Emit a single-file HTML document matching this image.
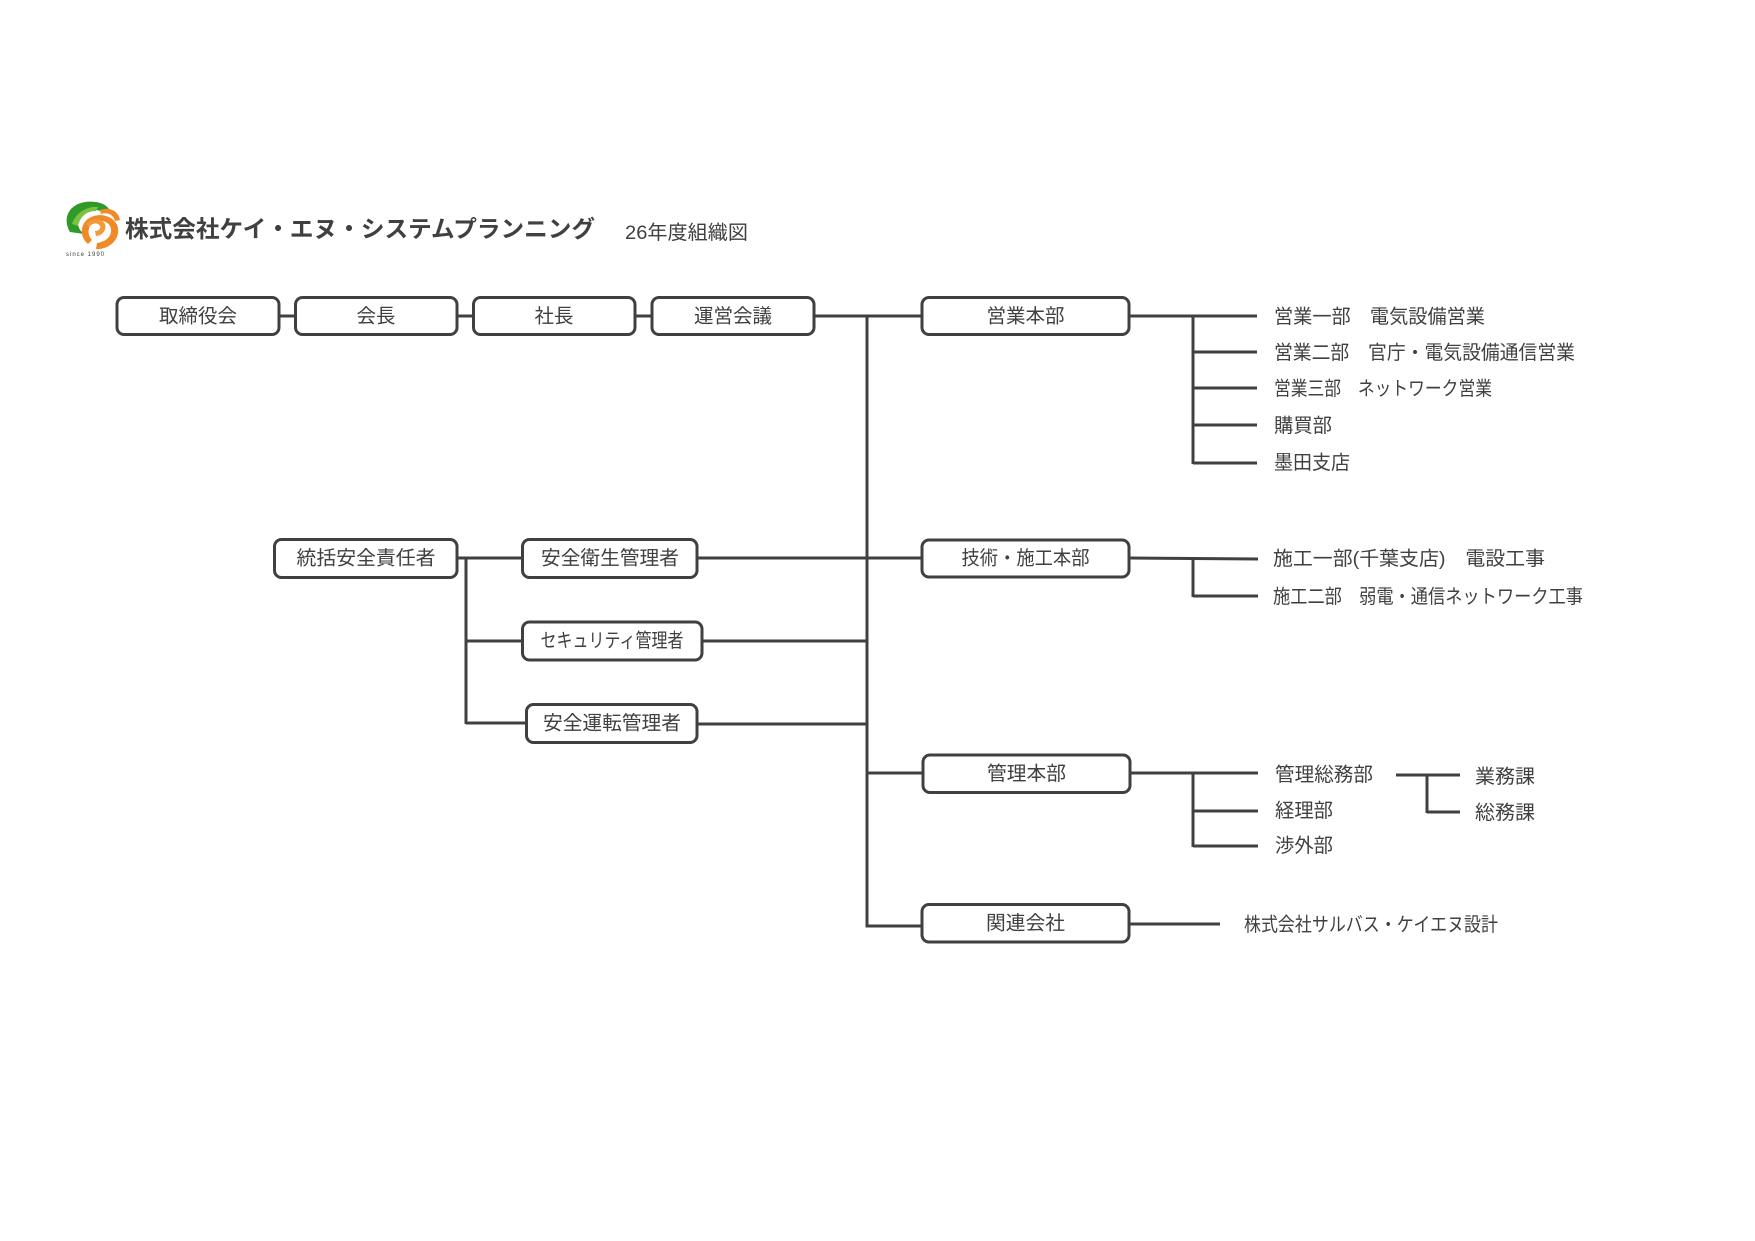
<!DOCTYPE html>
<html lang="ja">
<head>
<meta charset="utf-8">
<style>
  html,body{margin:0;padding:0;background:#fff;}
  body{width:1755px;height:1241px;overflow:hidden;}
  svg{display:block;}
  text{font-family:"Liberation Sans","Noto Sans CJK JP","Noto Sans CJK SC",sans-serif;fill:#404040;}
</style>
</head>
<body>
<svg width="1755" height="1241" viewBox="0 0 1755 1241" xmlns="http://www.w3.org/2000/svg">
  <rect x="0" y="0" width="1755" height="1241" fill="#fff"/>

  <!-- Logo -->
  <g>
    <path d="M70,232 C60,214 74,199 96,202 C103,203 107,206 109,209 L103,212 C92,207 80,210 78,220 C77,226 80,231 84,234 Z" fill="#2f9a2a"/>
    <path d="M72,224 C76,212 88,206 98,207 L96,211 C86,211 80,217 78,226 Z" fill="#7cc242"/>
    <path d="M88,244 C78,236 80,220 94,216 C104,213 116,218 118,228 C120,240 108,250 96,249 L97,243 C106,242 112,236 111,229 C110,222 102,219 95,222 C87,225 87,235 92,240 Z" fill="#f08a24"/>
    <path d="M86,224 C92,218 102,218 105,224 C107,230 102,236 96,236 L95,231 C99,231 101,228 100,226 C98,222 92,223 89,227 Z" fill="#f39a3a"/>
    <path d="M100,210 C110,206 119,212 120,220 L115,221 C113,214 107,212 101,214 Z" fill="#f08a24"/>
    <text x="66" y="256" font-size="6" fill="#777" style="letter-spacing:1px">since 1990</text>
  </g>

  <!-- Company name & title -->
  <text x="125" y="229" font-size="23.5" font-weight="bold" dominant-baseline="central" fill="#333" textLength="470" lengthAdjust="spacingAndGlyphs">株式会社ケイ・エヌ・システムプランニング</text>
  <text x="625" y="233" font-size="19.5" dominant-baseline="central" textLength="123" lengthAdjust="spacingAndGlyphs">26年度組織図</text>

  <!-- Connectors -->
  <g stroke="#404040" stroke-width="3" fill="none" stroke-linecap="butt">
    <!-- top row -->
    <line x1="279" y1="316" x2="295" y2="316"/>
    <line x1="457" y1="316" x2="473" y2="316"/>
    <line x1="635" y1="316" x2="652" y2="316"/>
    <line x1="814" y1="316" x2="922" y2="316"/>
    <!-- main vertical -->
    <line x1="867" y1="316" x2="867" y2="927"/>
    <!-- 営業 branch -->
    <line x1="1129" y1="316" x2="1257" y2="316"/>
    <line x1="1193" y1="316" x2="1193" y2="464"/>
    <line x1="1193" y1="352" x2="1257" y2="352"/>
    <line x1="1193" y1="388" x2="1257" y2="388"/>
    <line x1="1193" y1="425" x2="1257" y2="425"/>
    <line x1="1193" y1="463" x2="1257" y2="463"/>
    <!-- safety -->
    <line x1="457" y1="558" x2="522" y2="558"/>
    <line x1="466" y1="558" x2="466" y2="724"/>
    <line x1="466" y1="641" x2="522" y2="641"/>
    <line x1="466" y1="723" x2="526" y2="723"/>
    <line x1="697" y1="558" x2="922" y2="558"/>
    <line x1="702" y1="641" x2="866" y2="641"/>
    <line x1="697" y1="724" x2="867" y2="724"/>
    <!-- 技術 branch -->
    <line x1="1129" y1="558" x2="1258" y2="559"/>
    <line x1="1193" y1="558" x2="1193" y2="597"/>
    <line x1="1193" y1="596" x2="1258" y2="596"/>
    <!-- 管理 -->
    <line x1="867" y1="773" x2="923" y2="773"/>
    <line x1="1130" y1="773" x2="1258" y2="773"/>
    <line x1="1193" y1="773" x2="1193" y2="847"/>
    <line x1="1193" y1="811" x2="1258" y2="811"/>
    <line x1="1193" y1="846" x2="1258" y2="846"/>
    <line x1="1396" y1="775" x2="1460" y2="775"/>
    <line x1="1427" y1="775" x2="1427" y2="813"/>
    <line x1="1427" y1="812" x2="1460" y2="812"/>
    <!-- 関連会社 -->
    <line x1="865.5" y1="926" x2="922" y2="926"/>
    <line x1="1129" y1="924" x2="1220" y2="924"/>
  </g>

  <!-- Boxes -->
  <g stroke="#404040" stroke-width="3" fill="#fff">
    <rect x="117" y="297.5" width="162" height="37" rx="7"/>
    <rect x="295.5" y="297.5" width="161.5" height="37" rx="7"/>
    <rect x="473.5" y="297.5" width="161.5" height="37" rx="7"/>
    <rect x="652" y="297.5" width="162" height="37" rx="7"/>
    <rect x="922" y="297.5" width="207" height="37" rx="7"/>
    <rect x="922" y="540" width="207" height="37" rx="7"/>
    <rect x="274.5" y="539.5" width="182.5" height="38" rx="7"/>
    <rect x="522.5" y="539.5" width="174.5" height="38" rx="7"/>
    <rect x="522.5" y="622" width="179.5" height="38" rx="7"/>
    <rect x="526.5" y="704.5" width="170.5" height="38" rx="7"/>
    <rect x="923" y="755" width="207" height="37.5" rx="7"/>
    <rect x="922" y="904.5" width="207" height="37.5" rx="7"/>
  </g>

  <!-- Box labels -->
  <g font-size="19.5" text-anchor="middle" dominant-baseline="central">
    <text x="198" y="316.5" textLength="78" lengthAdjust="spacingAndGlyphs">取締役会</text>
    <text x="376" y="316.5" textLength="39" lengthAdjust="spacingAndGlyphs">会長</text>
    <text x="554" y="316.5" textLength="39" lengthAdjust="spacingAndGlyphs">社長</text>
    <text x="733" y="316.5" textLength="78" lengthAdjust="spacingAndGlyphs">運営会議</text>
    <text x="1025.5" y="316.5" textLength="78" lengthAdjust="spacingAndGlyphs">営業本部</text>
    <text x="1025.5" y="558.5" textLength="128" lengthAdjust="spacingAndGlyphs">技術・施工本部</text>
    <text x="366" y="558.5" textLength="139" lengthAdjust="spacingAndGlyphs">統括安全責任者</text>
    <text x="610" y="558.5" textLength="138" lengthAdjust="spacingAndGlyphs">安全衛生管理者</text>
    <text x="612" y="641" textLength="143" lengthAdjust="spacingAndGlyphs">セキュリティ管理者</text>
    <text x="612" y="723.5" textLength="138" lengthAdjust="spacingAndGlyphs">安全運転管理者</text>
    <text x="1026.5" y="774" textLength="79" lengthAdjust="spacingAndGlyphs">管理本部</text>
    <text x="1025.5" y="923.5" textLength="79" lengthAdjust="spacingAndGlyphs">関連会社</text>
  </g>

  <!-- Right-side labels -->
  <g font-size="19.5" dominant-baseline="central">
    <text x="1274" y="317" textLength="211" lengthAdjust="spacingAndGlyphs">営業一部　電気設備営業</text>
    <text x="1274" y="353" textLength="301" lengthAdjust="spacingAndGlyphs">営業二部　官庁・電気設備通信営業</text>
    <text x="1274" y="389" textLength="218" lengthAdjust="spacingAndGlyphs">営業三部　ネットワーク営業</text>
    <text x="1274" y="426" textLength="58" lengthAdjust="spacingAndGlyphs">購買部</text>
    <text x="1274" y="463" textLength="76" lengthAdjust="spacingAndGlyphs">墨田支店</text>
    <text x="1273" y="559" textLength="272" lengthAdjust="spacingAndGlyphs">施工一部(千葉支店)　電設工事</text>
    <text x="1273" y="597" textLength="310" lengthAdjust="spacingAndGlyphs">施工二部　弱電・通信ネットワーク工事</text>
    <text x="1275" y="775" textLength="98" lengthAdjust="spacingAndGlyphs">管理総務部</text>
    <text x="1275" y="811" textLength="58" lengthAdjust="spacingAndGlyphs">経理部</text>
    <text x="1275" y="846" textLength="58" lengthAdjust="spacingAndGlyphs">渉外部</text>
    <text x="1475" y="777" textLength="60" lengthAdjust="spacingAndGlyphs">業務課</text>
    <text x="1475" y="813" textLength="60" lengthAdjust="spacingAndGlyphs">総務課</text>
    <text x="1244" y="925" textLength="254" lengthAdjust="spacingAndGlyphs">株式会社サルバス・ケイエヌ設計</text>
  </g>
</svg>
</body>
</html>
